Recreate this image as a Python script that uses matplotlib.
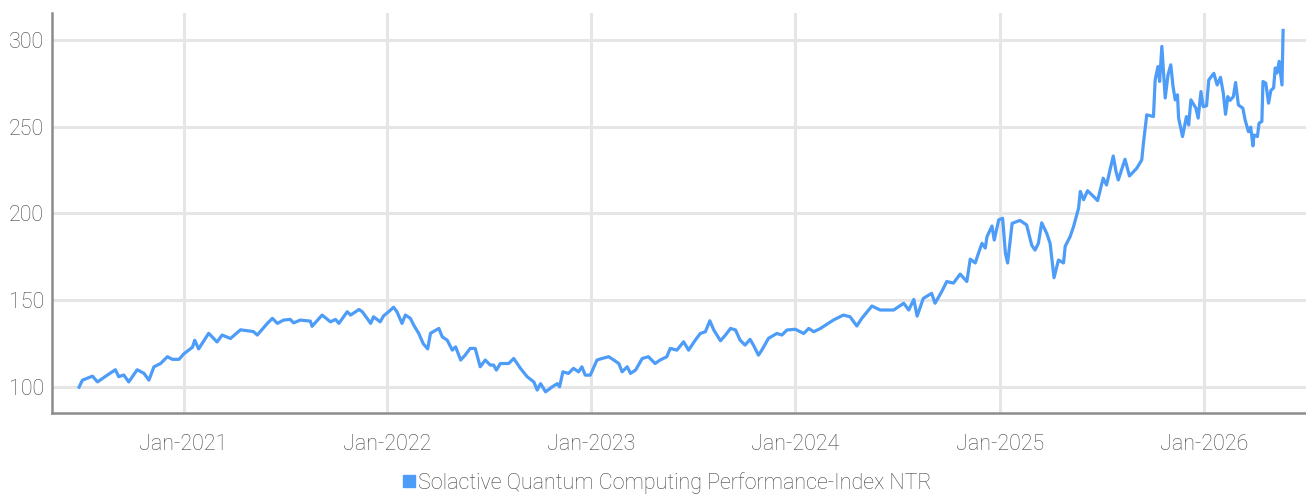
import matplotlib.pyplot as plt
import matplotlib.dates as mdates
from matplotlib.lines import Line2D
import pandas as pd

# index levels
dates = [
    "2020-06-28", "2020-07-04", "2020-07-22", "2020-07-31", "2020-08-18", "2020-09-01",
    "2020-09-07", "2020-09-16", "2020-09-25", "2020-10-10", "2020-10-22", "2020-10-31",
    "2020-11-09", "2020-11-21", "2020-12-03", "2020-12-12", "2020-12-24", "2021-01-01",
    "2021-01-17", "2021-01-21", "2021-01-28", "2021-02-15", "2021-03-02", "2021-03-11",
    "2021-03-26", "2021-04-13", "2021-05-06", "2021-05-13", "2021-05-31", "2021-06-09",
    "2021-06-18", "2021-06-29", "2021-07-11", "2021-07-17", "2021-07-29", "2021-08-16",
    "2021-08-19", "2021-09-06", "2021-09-21", "2021-09-30", "2021-10-06", "2021-10-21",
    "2021-10-27", "2021-11-11", "2021-11-17", "2021-12-02", "2021-12-07", "2021-12-19",
    "2021-12-25", "2022-01-03", "2022-01-12", "2022-01-18", "2022-01-27", "2022-02-02",
    "2022-02-11", "2022-02-17", "2022-02-26", "2022-03-06", "2022-03-14", "2022-03-19",
    "2022-04-03", "2022-04-09", "2022-04-18", "2022-04-27", "2022-05-03", "2022-05-12",
    "2022-05-20", "2022-05-29", "2022-06-07", "2022-06-16", "2022-06-25", "2022-07-04",
    "2022-07-10", "2022-07-15", "2022-07-22", "2022-08-06", "2022-08-15", "2022-08-27",
    "2022-09-08", "2022-09-20", "2022-09-26", "2022-10-02", "2022-10-11", "2022-10-23",
    "2022-11-01", "2022-11-05", "2022-11-11", "2022-11-21", "2022-11-30", "2022-12-09",
    "2022-12-15", "2022-12-21", "2022-12-30", "2023-01-11", "2023-01-20", "2023-02-01",
    "2023-02-10", "2023-02-19", "2023-02-25", "2023-03-06", "2023-03-12", "2023-03-21",
    "2023-04-02", "2023-04-13", "2023-04-25", "2023-05-04", "2023-05-16", "2023-05-22",
    "2023-06-03", "2023-06-15", "2023-06-24", "2023-07-06", "2023-07-15", "2023-07-24",
    "2023-08-01", "2023-08-08", "2023-08-20", "2023-08-29", "2023-09-07", "2023-09-16",
    "2023-09-24", "2023-10-03", "2023-10-12", "2023-10-18", "2023-10-27", "2023-11-02",
    "2023-11-14", "2023-11-29", "2023-12-08", "2023-12-17", "2024-01-01", "2024-01-16",
    "2024-01-25", "2024-02-03", "2024-02-15", "2024-02-24", "2024-03-09", "2024-03-27",
    "2024-04-08", "2024-04-20", "2024-04-29", "2024-05-11", "2024-05-17", "2024-06-01",
    "2024-06-25", "2024-07-13", "2024-07-22", "2024-07-31", "2024-08-06", "2024-08-17",
    "2024-09-01", "2024-09-07", "2024-09-19", "2024-09-28", "2024-10-10", "2024-10-22",
    "2024-11-03", "2024-11-09", "2024-11-18", "2024-11-24", "2024-11-30", "2024-12-06",
    "2024-12-09", "2024-12-18", "2024-12-22", "2024-12-30", "2025-01-06", "2025-01-11",
    "2025-01-15", "2025-01-23", "2025-02-06", "2025-02-18", "2025-02-27", "2025-03-05",
    "2025-03-11", "2025-03-17", "2025-03-26", "2025-04-01", "2025-04-08", "2025-04-16",
    "2025-04-25", "2025-04-28", "2025-05-07", "2025-05-13", "2025-05-22", "2025-05-25",
    "2025-05-31", "2025-06-07", "2025-06-18", "2025-06-25", "2025-07-05", "2025-07-11",
    "2025-07-23", "2025-07-28", "2025-08-01", "2025-08-13", "2025-08-21", "2025-09-03",
    "2025-09-12", "2025-09-15", "2025-09-21", "2025-10-03", "2025-10-06", "2025-10-11",
    "2025-10-14", "2025-10-18", "2025-10-24", "2025-10-29", "2025-11-03", "2025-11-07",
    "2025-11-11", "2025-11-15", "2025-11-17", "2025-11-24", "2025-12-01", "2025-12-05",
    "2025-12-09", "2025-12-18", "2025-12-22", "2025-12-27", "2025-12-31", "2026-01-06",
    "2026-01-10", "2026-01-19", "2026-01-25", "2026-01-31", "2026-02-05", "2026-02-09",
    "2026-02-13", "2026-02-17", "2026-02-23", "2026-02-27", "2026-03-04", "2026-03-12",
    "2026-03-16", "2026-03-22", "2026-03-26", "2026-03-30", "2026-04-01", "2026-04-07",
    "2026-04-10", "2026-04-15", "2026-04-17", "2026-04-22", "2026-04-27", "2026-05-01",
    "2026-05-06", "2026-05-09", "2026-05-12", "2026-05-16", "2026-05-21", "2026-05-23",
]
values = [
    100, 104, 106.3, 103, 107, 110,
    106, 107, 103, 110, 108, 104,
    111.7, 113.6, 117.5, 116, 116, 119,
    123, 127, 122, 131, 126, 130,
    128, 133, 132, 130, 136.7, 139.6,
    136.7, 138.6, 139, 137, 138.6, 138,
    135, 141.5, 137.6, 139, 136.7, 143.4,
    141.5, 144.7, 143.4, 136.7, 140.5, 137.6,
    141, 143.4, 146, 143.4, 136.7, 141.5,
    139.6, 135.7, 130.9, 125, 122, 131,
    133.8, 129, 127, 121.3, 123.2, 115.6,
    118.4, 122.3, 122.3, 111.7, 115.6, 112.7,
    112.7, 109.8, 113.6, 113.6, 116.5, 110.8,
    106, 103, 98.3, 102, 97.3, 100.2,
    102, 100.2, 108.8, 107.9, 110.8, 108.8,
    111.7, 106.9, 106.9, 115.6, 116.5, 117.5,
    115.6, 113.6, 108.8, 111.7, 107.9, 109.8,
    116.5, 117.5, 113.6, 115.6, 117.5, 122.3,
    121.3, 126.1, 121.3, 127.1, 130.9, 131.9,
    138.2, 132.9, 126.7, 130, 133.8, 132.9,
    127.1, 124.2, 127.5, 124.2, 118.4, 121.3,
    128.1, 130.9, 130, 132.9, 133.3, 130.9,
    133.8, 131.9, 133.8, 135.7, 138.6, 141.5,
    140.5, 135.2, 139.6, 144.4, 146.7, 144.4,
    144.4, 148.3, 144.4, 150.5, 140.9, 151.1,
    154, 148.3, 155, 160.8, 159.9, 165.1,
    160.8, 173.7, 171.5, 177.3, 182.8, 180.1,
    186.6, 192.8, 184.7, 196.3, 197.2, 177.1,
    171.5, 194.3, 196, 193.4, 181.8, 178.9,
    182.8, 194.6, 188.5, 182.8, 163, 173.2,
    171.5, 181.1, 186.8, 192.5, 203.1, 212.7,
    207.9, 213.1, 209.7, 207.4, 220.3, 216.4,
    233.1, 224.1, 219.3, 231.2, 221.6, 226,
    230.8, 240.4, 256.8, 255.8, 276.9, 284.6,
    276, 296.2, 266.5, 279.8, 285.6, 273.1,
    265.4, 268.3, 254.9, 244.3, 255.8, 251,
    265.4, 260.6, 254.9, 270.2, 261.5, 262,
    276.9, 280.7, 274, 278.4, 269.2, 257.1,
    267.3, 265.1, 267.3, 275.4, 262.5, 260.6,
    253.9, 247.1, 249.7, 238.9, 245.2, 244.3,
    252, 253, 276, 275, 263.5, 270.8,
    272.3, 283.8, 280.9, 287.6, 274, 305.4,
]
series_name = "Solactive Quantum Computing Performance-Index NTR"
y_ticks = [100, 150, 200, 250, 300]
x_ticks = ["2021-01-01", "2022-01-01", "2023-01-01", "2024-01-01", "2025-01-01", "2026-01-01"]

blue = "#4d9cf8"
txt = "#444444"
plt.rcParams["font.family"] = ["Roboto", "DejaVu Sans"]
plt.rcParams["font.weight"] = "light"

fig = plt.figure(figsize=(13.06, 4.96), dpi=100)
ax = fig.add_axes([0.040, 0.167, 0.960, 0.807])

d = pd.to_datetime(dates)
ax.plot(d, values, color=blue, lw=2.3, solid_joinstyle="round", zorder=3)

ax.set_ylim(85, 315.5)
ax.set_xlim(pd.Timestamp("2020-05-11"), pd.Timestamp("2026-07-03"))
ax.set_yticks(y_ticks)
ax.set_xticks(pd.to_datetime(x_ticks))
ax.xaxis.set_major_formatter(mdates.DateFormatter("%b-%Y"))

ax.grid(True, color="#e6e6e6", lw=2.2, zorder=0)
ax.set_axisbelow(True)
for s in ["top", "right"]:
    ax.spines[s].set_visible(False)
for s in ["left", "bottom"]:
    ax.spines[s].set_color("#8c8c8c")
    ax.spines[s].set_linewidth(1.8)
ax.tick_params(axis="both", length=0, labelsize=15.5, colors=txt)
ax.tick_params(axis="x", pad=15)
ax.tick_params(axis="y", pad=6)

handle = Line2D([], [], marker="s", color=blue, ls="none", markersize=8)
fig.legend([handle], [series_name], loc="center", bbox_to_anchor=(0.51, 0.027),
           frameon=False, fontsize=15.5, handletextpad=0.05, labelcolor=txt,
           handlelength=0.8, borderpad=0)

fig.savefig("out.png", dpi=100, facecolor="white")
